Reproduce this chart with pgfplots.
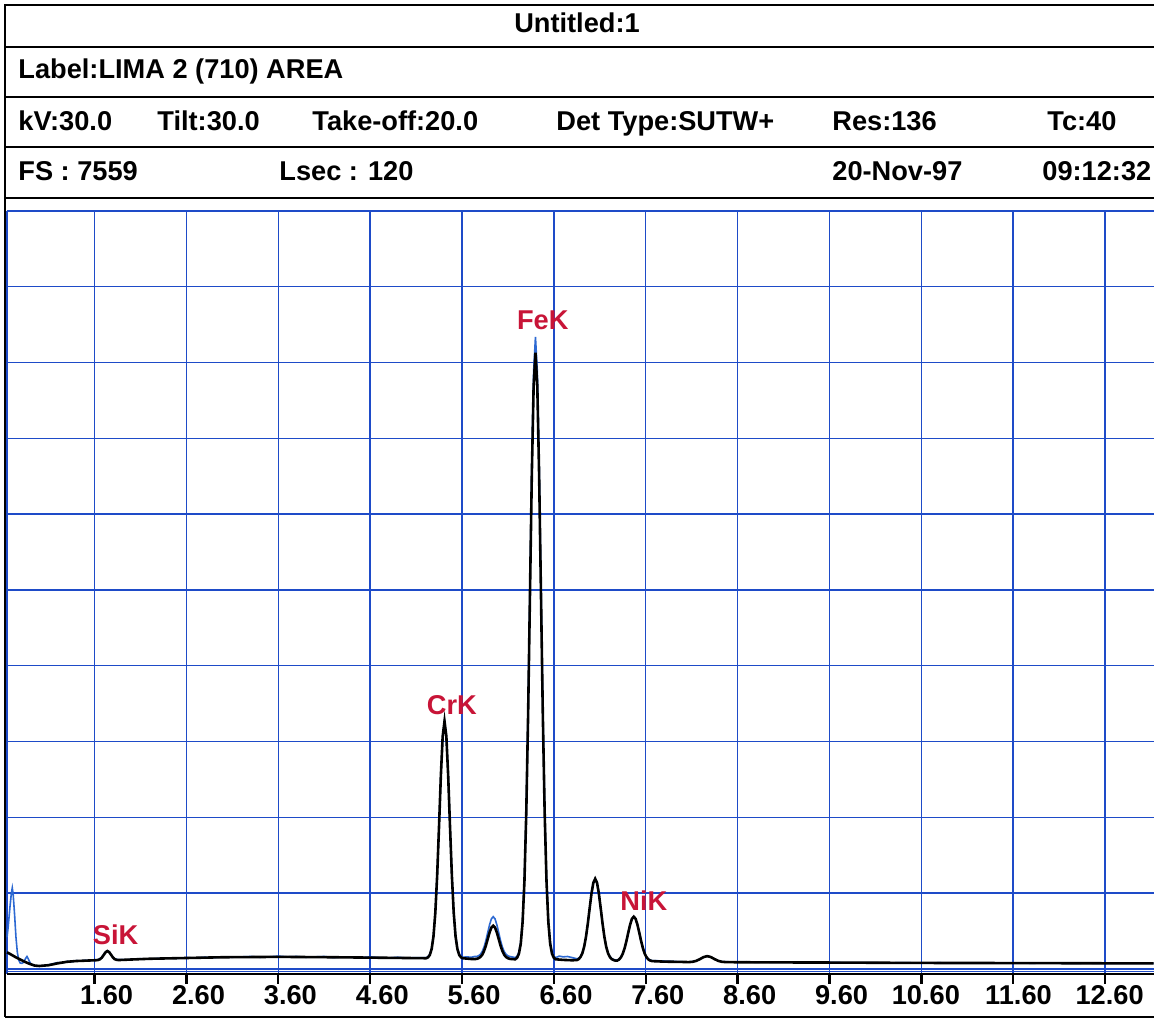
\documentclass[border=0pt]{standalone}
\usepackage{pgfplots}
\pgfplotsset{compat=1.18}
\usepackage{fontspec}
\setmainfont{Liberation Sans}
\definecolor{gridblue}{RGB}{30,75,200}
\definecolor{specblue}{RGB}{45,105,210}
\definecolor{labred}{RGB}{200,20,55}
\newcommand\hdr{\fontsize{13.6}{15}\selectfont\bfseries}
\begin{document}
\begin{tikzpicture}
\useasboundingbox (0pt,0pt) rectangle (577pt,510pt);
\fill[white] (0pt,0pt) rectangle (577pt,510pt);
% frame and header table
\draw[line width=1pt] (2.5pt,1.5pt) -- (2.5pt,507.5pt) -- (577pt,507.5pt);
\draw[line width=1pt] (2.5pt,1.5pt) -- (577pt,1.5pt);
\foreach \yy in {486.5,461.5,436.5,411} \draw[line width=1pt] (2.5pt,\yy pt) -- (577pt,\yy pt);
\node[font=\hdr, anchor=base, inner sep=0pt] at (288.5pt,493.5pt) {Untitled:1};
\node[font=\hdr, anchor=base west, inner sep=0pt] at (9pt,470.5pt) {Label:LIMA 2 (710) AREA};
\node[font=\hdr, anchor=base west, inner sep=0pt] at (9pt,444.5pt) {kV:30.0};
\node[font=\hdr, anchor=base west, inner sep=0pt] at (78.5pt,444.5pt) {Tilt:30.0};
\node[font=\hdr, anchor=base west, inner sep=0pt] at (156pt,444.5pt) {Take-off:20.0};
\node[font=\hdr, anchor=base west, inner sep=0pt] at (278pt,444.5pt) {Det Type:SUTW+};
\node[font=\hdr, anchor=base west, inner sep=0pt] at (416pt,444.5pt) {Res:136};
\node[font=\hdr, anchor=base west, inner sep=0pt] at (523.5pt,444.5pt) {Tc:40};
\node[font=\hdr, anchor=base west, inner sep=0pt] at (9pt,419.5pt) {FS : 7559};
\node[font=\hdr, anchor=base west, inner sep=0pt] at (139.5pt,419.5pt) {Lsec : 120};
\node[font=\hdr, anchor=base west, inner sep=0pt] at (416pt,419.5pt) {20-Nov-97};
\node[font=\hdr, anchor=base west, inner sep=0pt] at (521pt,419.5pt) {09:12:32};
\begin{axis}[at={(3.5pt,23pt)}, anchor=south west, scale only axis,
  width=573.5pt, height=381.5pt,
  xmin=0.6475, xmax=13.133, ymin=-0.066, ymax=10,
  clip=false,
  axis line style={draw=none},
  xtick={1.6,2.6,3.6,4.6,5.6,6.6,7.6,8.6,9.6,10.6,11.6,12.6},
  xticklabels={1.60,2.60,3.60,4.60,5.60,6.60,7.60,8.60,9.60,10.60,11.60,12.60},
  ytick={0,1,2,3,4,5,6,7,8,9,10}, yticklabels={},
  grid=major, major grid style={gridblue, line width=0.7pt},
  xtick pos=left, ytick style={draw=none},
  xtick style={black, line width=1.2pt},
  tick align=outside, major tick length=5pt,
  xticklabel style={font=\hdr, anchor=base east, inner sep=0pt, xshift=19.5pt, yshift=-10.5pt},
]
\draw[gridblue, line width=0.7pt] (axis cs:0.6475,-0.066) -- (axis cs:0.6475,10);
\draw[gridblue, line width=0.7pt] (axis cs:0.6475,-0.035) -- (axis cs:13.133,-0.035);
\draw[black, line width=1.2pt] (axis cs:0.6475,-0.066) -- (axis cs:13.133,-0.066);
% measured spectrum (blue)
\addplot[specblue, line width=0.8pt] table {
x y
0.648 0.42
0.66 0.55
0.68 0.82
0.695 1.00
0.705 1.07
0.715 0.98
0.73 0.72
0.745 0.42
0.76 0.22
0.775 0.12
0.79 0.08
0.81 0.075
0.83 0.09
0.85 0.14
0.865 0.165
0.88 0.13
0.90 0.08
0.93 0.05
0.96 0.04
1.00 0.035
1.05 0.045
1.10 0.055
1.15 0.07
1.20 0.085
1.25 0.08
1.30 0.10
1.35 0.095
1.40 0.11
1.45 0.105
1.50 0.115
1.55 0.11
1.60 0.12
1.64 0.122
1.68 0.155
1.70 0.19
1.72 0.225
1.74 0.24
1.76 0.227
1.78 0.19
1.80 0.158
1.82 0.135
1.86 0.122
1.90 0.125
1.95 0.12
2.00 0.13
2.10 0.135
2.20 0.13
2.30 0.14
2.40 0.145
2.50 0.14
2.60 0.15
2.70 0.145
2.80 0.155
2.90 0.15
3.00 0.16
3.10 0.155
3.20 0.16
3.30 0.165
3.40 0.155
3.50 0.16
3.60 0.17
3.70 0.16
3.80 0.165
3.90 0.155
4.00 0.16
4.10 0.165
4.20 0.15
4.30 0.16
4.40 0.155
4.50 0.15
4.60 0.16
4.70 0.15
4.80 0.145
4.90 0.155
5.00 0.145
5.10 0.15
5.21 0.15
5.23 0.162
5.25 0.195
5.27 0.272
5.29 0.44
5.31 0.75
5.33 1.24
5.35 1.875
5.37 2.548
5.39 3.07
5.41 3.268
5.43 3.07
5.45 2.55
5.47 1.88
5.49 1.243
5.51 0.755
5.53 0.445
5.55 0.275
5.57 0.197
5.59 0.165
5.61 0.155
5.65 0.16
5.70 0.155
5.74 0.165
5.76 0.165
5.78 0.174
5.80 0.193
5.82 0.229
5.84 0.289
5.86 0.374
5.88 0.479
5.90 0.582
5.92 0.661
5.94 0.69
5.96 0.661
5.98 0.582
6.00 0.479
6.02 0.374
6.04 0.289
6.06 0.229
6.08 0.193
6.10 0.174
6.12 0.165
6.14 0.16
6.18 0.15
6.20 0.169
6.22 0.224
6.24 0.359
6.26 0.653
6.28 1.206
6.30 2.133
6.32 3.453
6.34 5.068
6.36 6.675
6.38 7.889
6.40 8.34
6.42 7.889
6.44 6.675
6.46 5.068
6.48 3.453
6.50 2.133
6.52 1.206
6.54 0.653
6.56 0.359
6.58 0.224
6.60 0.169
6.62 0.15
6.66 0.17
6.70 0.16
6.75 0.165
6.80 0.15
6.85 0.135
6.87 0.14
6.89 0.165
6.91 0.212
6.93 0.295
6.95 0.425
6.97 0.601
6.99 0.803
7.01 0.997
7.03 1.138
7.05 1.19
7.07 1.138
7.09 0.997
7.11 0.803
7.13 0.601
7.15 0.425
7.17 0.295
7.19 0.212
7.21 0.165
7.23 0.14
7.25 0.125
7.27 0.118
7.29 0.118
7.31 0.13
7.33 0.158
7.35 0.203
7.37 0.275
7.39 0.37
7.41 0.48
7.43 0.585
7.45 0.662
7.47 0.69
7.49 0.662
7.51 0.585
7.53 0.48
7.55 0.37
7.57 0.275
7.59 0.203
7.61 0.158
7.63 0.13
7.65 0.118
7.67 0.11
7.70 0.11
7.80 0.105
7.90 0.10
8.00 0.095
8.07 0.093
8.11 0.097
8.15 0.108
8.19 0.13
8.23 0.157
8.27 0.17
8.31 0.157
8.35 0.13
8.39 0.108
8.43 0.097
8.50 0.095
8.60 0.09
8.70 0.095
8.80 0.088
8.90 0.092
9.00 0.087
9.20 0.09
9.40 0.085
9.60 0.088
9.80 0.083
10.00 0.085
10.20 0.08
10.40 0.083
10.60 0.08
10.80 0.082
11.00 0.078
11.20 0.08
11.40 0.077
11.60 0.079
11.80 0.076
12.00 0.078
12.20 0.075
12.40 0.077
12.60 0.075
12.80 0.076
13.00 0.074
13.13 0.075
};
% reference spectrum (black)
\addplot[black, line width=1.3pt] table {
x y
0.648 0.22
0.70 0.185
0.75 0.15
0.80 0.12
0.85 0.09
0.90 0.065
0.95 0.045
1.00 0.04
1.10 0.05
1.20 0.075
1.30 0.095
1.40 0.105
1.50 0.11
1.60 0.115
1.62 0.116
1.64 0.119
1.66 0.129
1.68 0.150
1.70 0.185
1.72 0.220
1.74 0.237
1.76 0.222
1.78 0.188
1.80 0.153
1.82 0.130
1.84 0.121
1.86 0.118
1.90 0.12
2.00 0.125
2.20 0.135
2.60 0.145
3.00 0.155
3.60 0.16
4.20 0.155
4.60 0.15
5.00 0.145
5.21 0.142
5.23 0.153
5.25 0.185
5.27 0.264
5.29 0.433
5.31 0.745
5.33 1.234
5.35 1.872
5.37 2.545
5.39 3.069
5.41 3.268
5.43 3.069
5.45 2.545
5.47 1.872
5.49 1.234
5.51 0.745
5.53 0.433
5.55 0.264
5.57 0.185
5.59 0.153
5.61 0.142
5.70 0.132
5.74 0.131
5.76 0.134
5.78 0.142
5.80 0.158
5.82 0.187
5.84 0.237
5.86 0.308
5.88 0.394
5.90 0.481
5.92 0.546
5.94 0.57
5.96 0.546
5.98 0.481
6.00 0.394
6.02 0.308
6.04 0.237
6.06 0.187
6.08 0.158
6.10 0.142
6.12 0.134
6.14 0.131
6.18 0.128
6.20 0.148
6.22 0.202
6.24 0.334
6.26 0.621
6.28 1.161
6.30 2.066
6.32 3.356
6.34 4.934
6.36 6.504
6.38 7.689
6.40 8.13
6.42 7.689
6.44 6.504
6.46 4.934
6.48 3.356
6.50 2.066
6.52 1.161
6.54 0.621
6.56 0.334
6.58 0.202
6.60 0.148
6.62 0.128
6.70 0.12
6.80 0.115
6.85 0.118
6.87 0.130
6.89 0.157
6.91 0.207
6.93 0.293
6.95 0.425
6.97 0.601
6.99 0.803
7.01 0.997
7.03 1.138
7.05 1.19
7.07 1.138
7.09 0.997
7.11 0.803
7.13 0.601
7.15 0.425
7.17 0.293
7.19 0.207
7.21 0.157
7.23 0.130
7.25 0.118
7.27 0.11
7.29 0.111
7.31 0.125
7.33 0.153
7.35 0.200
7.37 0.272
7.39 0.368
7.41 0.479
7.43 0.584
7.45 0.662
7.47 0.69
7.49 0.662
7.51 0.584
7.53 0.479
7.55 0.368
7.57 0.272
7.59 0.200
7.61 0.153
7.63 0.125
7.65 0.111
7.67 0.104
7.80 0.097
8.00 0.093
8.07 0.091
8.11 0.095
8.15 0.107
8.19 0.13
8.23 0.157
8.27 0.17
8.31 0.157
8.35 0.13
8.39 0.107
8.43 0.095
8.47 0.091
8.60 0.089
9.00 0.087
9.60 0.085
10.60 0.08
11.60 0.078
12.60 0.075
13.13 0.075
};
\node[font=\hdr, text=labred, inner sep=0pt] at (axis cs:6.48,8.56) {FeK};
\node[font=\hdr, text=labred, inner sep=0pt] at (axis cs:5.49,3.48) {CrK};
\node[font=\hdr, text=labred, inner sep=0pt] at (axis cs:1.83,0.45) {SiK};
\node[font=\hdr, text=labred, inner sep=0pt] at (axis cs:7.58,0.90) {NiK};
\end{axis}
\end{tikzpicture}
\end{document}
